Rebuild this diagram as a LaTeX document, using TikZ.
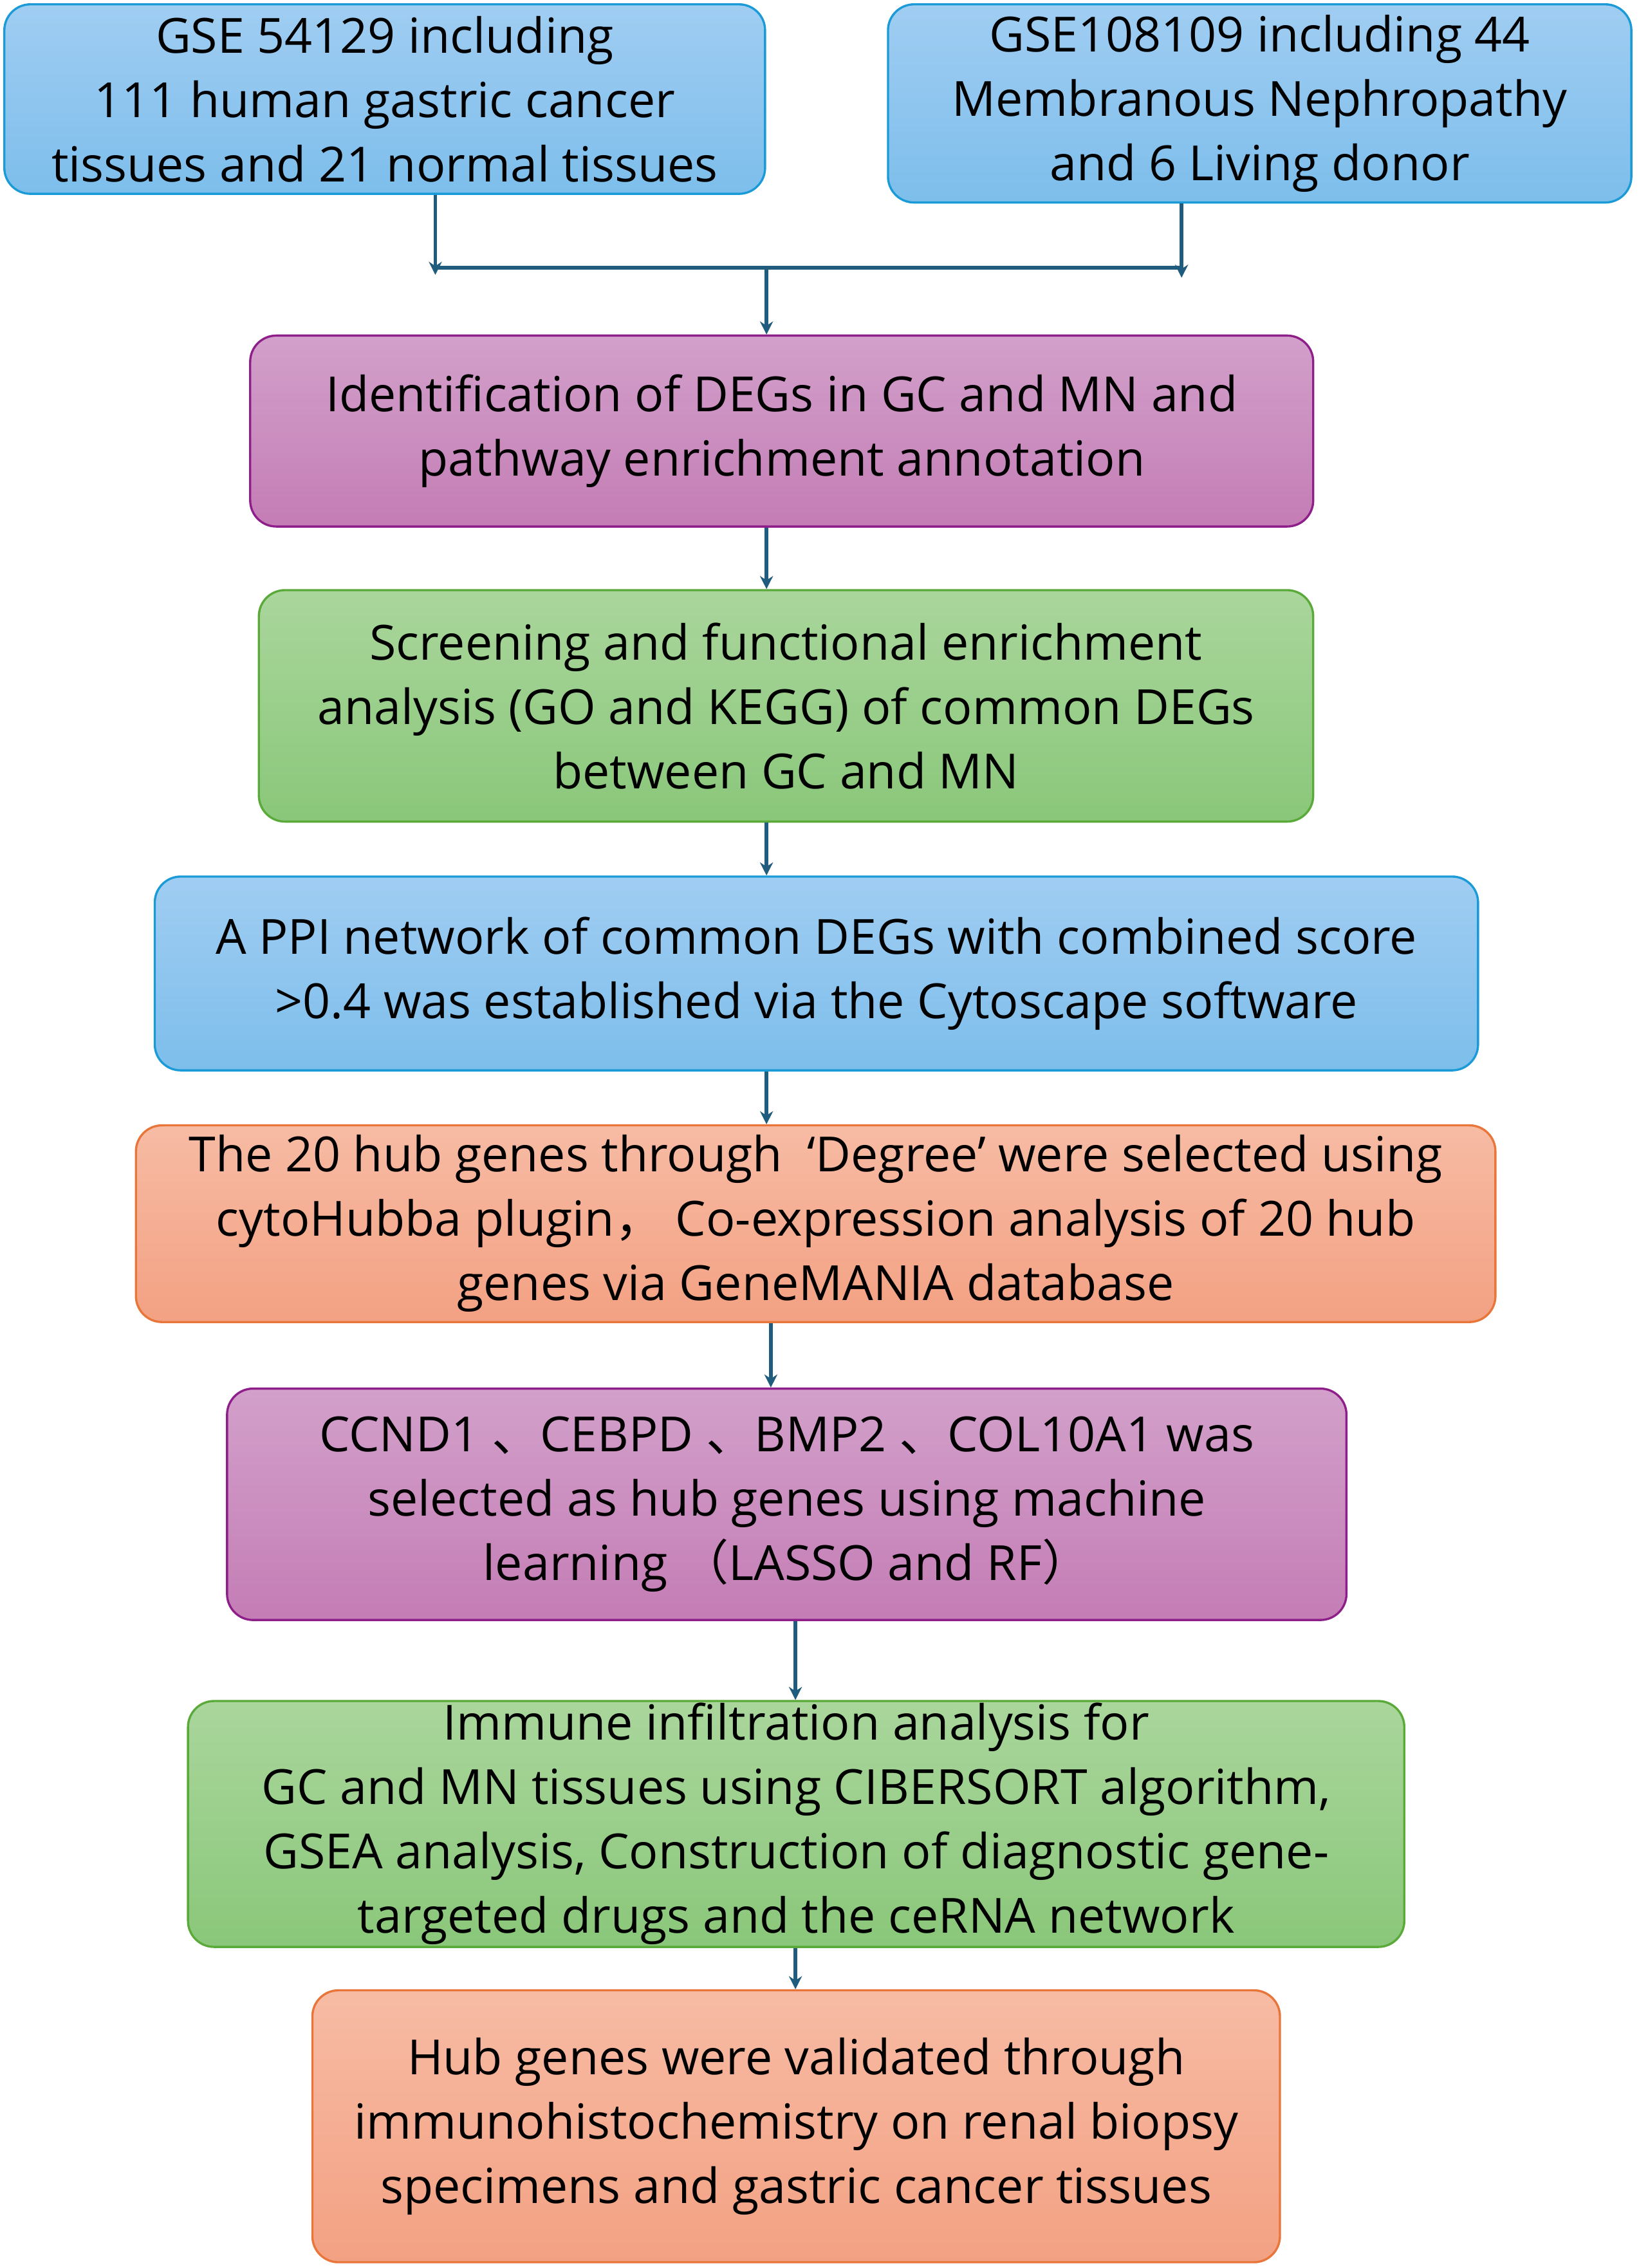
\documentclass[tikz,border=0pt]{standalone}
\usepackage{fontspec}
\setmainfont{Open Sans}
\newfontfamily\cjk{Noto Sans CJK SC}
\usetikzlibrary{arrows.meta}
\definecolor{arr}{HTML}{1F5C7D}
\definecolor{blb}{HTML}{1A9BD7}
\tikzset{
 box/.style={rounded corners=18pt, line width=1.5pt, align=center, inner sep=0pt,
   font=\fontsize{33.5}{44.5}\selectfont},
 bl/.style={box, draw=blb, top color={rgb,255:red,160;green,205;blue,242}, bottom color={rgb,255:red,125;green,190;blue,235}},
 pu/.style={box, draw={rgb,255:red,142;green,31;blue,138}, top color={rgb,255:red,210;green,160;blue,202}, bottom color={rgb,255:red,196;green,125;blue,181}},
 gr/.style={box, draw={rgb,255:red,90;green,170;blue,58}, top color={rgb,255:red,170;green,214;blue,156}, bottom color={rgb,255:red,138;green,199;blue,122}},
 og/.style={box, draw={rgb,255:red,232;green,118;blue,58}, top color={rgb,255:red,247;green,187;blue,164}, bottom color={rgb,255:red,243;green,161;blue,131}},
 ar/.style={draw=arr, line width=2.5pt, -{Stealth[length=9pt,width=9pt]}},
 ln/.style={draw=arr, line width=2.5pt}
}
\newcommand{\mybox}[7]{\node[#6, minimum width=#4pt-#2pt, minimum height=#5pt-#3pt] (#1) at ({(#2+#4)/2},{(#3+#5)/2}) {#7};}
\begin{document}
\begin{tikzpicture}[x=1pt,y=-1pt]
\useasboundingbox (0,0) rectangle (1133,1568);
\mybox{b1}{3}{3}{529}{134}{bl}{GSE 54129 including\\111 human gastric cancer\\tissues and 21 normal tissues}
\mybox{b2}{614}{3}{1128}{140}{bl}{GSE108109 including 44\\Membranous Nephropathy\\and 6 Living donor}
\mybox{b3}{173}{232}{908}{364}{pu}{Identification of DEGs in GC and MN and\\pathway enrichment annotation}
\mybox{b4}{179}{408}{908}{568}{gr}{Screening and functional enrichment\\analysis (GO and KEGG) of common DEGs\\between GC and MN}
\mybox{b5}{107}{606}{1022}{740}{bl}{A PPI network of common DEGs with combined score\\>0.4 was established via the Cytoscape software}
\mybox{b6}{94}{778}{1034}{914}{og}{The 20 hub genes through \ ‘Degree’ were selected using\\cytoHubba plugin{\cjk ，}\ Co-expression analysis of 20 hub\\genes via GeneMANIA database}
\mybox{b7}{157}{960}{931}{1120}{pu}{CCND1 {\cjk 、}CEBPD {\cjk 、}BMP2 {\cjk 、}COL10A1 was\\selected as hub genes using machine\\learning {\cjk （}LASSO and RF{\cjk ）}}
\mybox{b8}{130}{1176}{971}{1346}{gr}{Immune infiltration analysis for\\GC and MN tissues using CIBERSORT algorithm,\\GSEA analysis, Construction of diagnostic gene-\\targeted drugs and the ceRNA network}
\mybox{b9}{216}{1376}{885}{1564}{og}{Hub genes were validated through\\immunohistochemistry on renal biopsy\\specimens and gastric cancer tissues}
\coordinate (l) at (301,185);
\coordinate (r) at (817,185);
\coordinate (m) at (530,185);
\draw[ar] (b1.south -| l) -- (301,190);
\draw[ar] (b2.south -| r) -- (817,192);
\draw[ln] (l) -- (r);
\draw[ar] (m) -- (b3.north -| m);
\draw[ar] (b3.south -| m) -- (b4.north -| m);
\draw[ar] (b4.south -| m) -- (b5.north -| m);
\draw[ar] (b5.south -| m) -- (b6.north -| m);
\coordinate (m2) at (533,0);
\draw[ar] (b6.south -| m2) -- (b7.north -| m2);
\coordinate (m3) at (550,0);
\draw[ar] (b7.south -| m3) -- (b8.north -| m3);
\draw[ar] (b8.south -| m3) -- (b9.north -| m3);
\end{tikzpicture}
\end{document}
